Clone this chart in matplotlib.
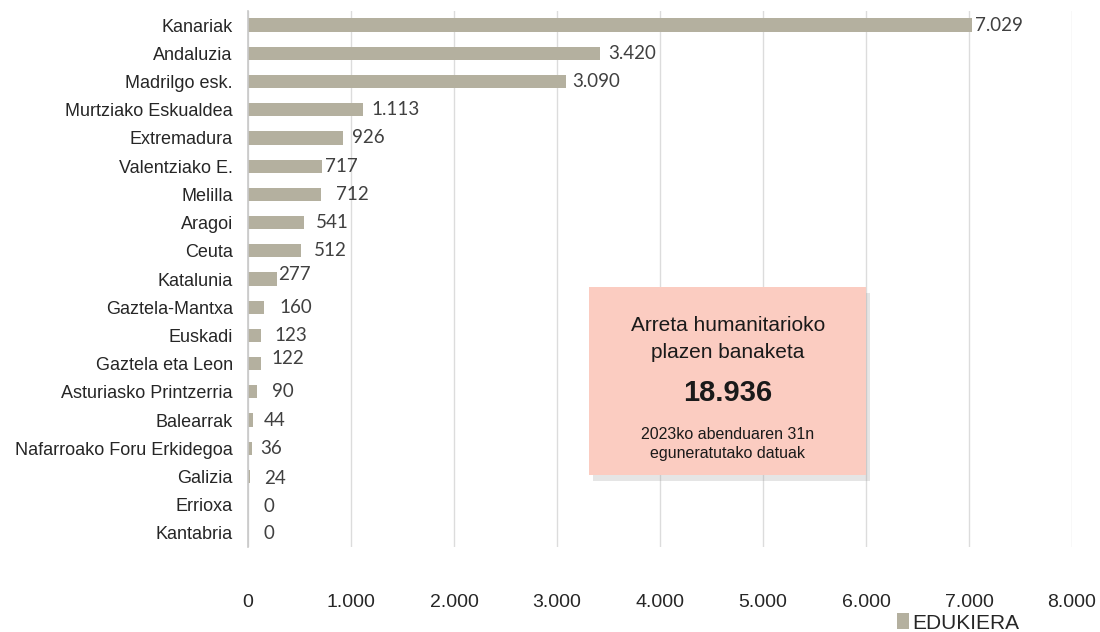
import matplotlib
matplotlib.use("Agg")
import matplotlib.pyplot as plt
from matplotlib.patches import Rectangle
from matplotlib import patheffects as pe

# data
regions = ["Kanariak", "Andaluzia", "Madrilgo esk.", "Murtziako Eskualdea", "Extremadura",
           "Valentziako E.", "Melilla", "Aragoi", "Ceuta", "Katalunia", "Gaztela-Mantxa",
           "Euskadi", "Gaztela eta Leon", "Asturiasko Printzerria", "Balearrak",
           "Nafarroako Foru Erkidegoa", "Galizia", "Errioxa", "Kantabria"]
plazak = [7029, 3420, 3090, 1113, 926, 717, 712, 541, 512, 277, 160, 123, 122, 90, 44, 36, 24, 0, 0]
value_labels = ["7.029", "3.420", "3.090", "1.113", "926", "717", "712", "541", "512", "277",
                "160", "123", "122", "90", "44", "36", "24", "0", "0"]
xticks = [0, 1000, 2000, 3000, 4000, 5000, 6000, 7000, 8000]
xtick_labels = ["0", "1.000", "2.000", "3.000", "4.000", "5.000", "6.000", "7.000", "8.000"]
legend_label = "EDUKIERA"
box_lines = ["Arreta humanitarioko\nplazen banaketa", "18.936",
             "2023ko abenduaren 31n\neguneratutako datuak"]

# label nudges (px) like the hand-placed excel labels
dx = [3, 8, 6, 9, 9, 3, 15, 12, 13, 2, 15, 14, 11, 15, 11, 9, 14, 15, 15]
dy = [0, 0, 0, 0, 0, 0, 0, 0, 0, 5, 0, 0, 5, 0, 0, 0, -2, -2, -1]

sans = ["Liberation Sans", "DejaVu Sans"]
bar_col = "#B4B09F"

fig = plt.figure(figsize=(11, 6.32), dpi=100)
ax = fig.add_axes([248/1100, 1-547/632, (1072-248)/1100, 536/632])

y = list(range(len(regions)))
ax.barh(y, plazak, height=0.47, color=bar_col, zorder=2)
ax.set_ylim(len(regions)-0.5, -0.5)
ax.set_xlim(0, 8000)

for i, v in enumerate(plazak):
    ax.annotate(value_labels[i], (v, i), xytext=(dx[i]*0.72, dy[i]*0.72),
                textcoords="offset points", ha="left", va="center",
                fontsize=13.5, family=["Lato", "DejaVu Sans"], color="#404040")

ax.set_xticks(xticks)
ax.set_xticklabels(xtick_labels, family=sans, fontsize=14, color="#262626")
ax.set_yticks(y)
ax.set_yticklabels(regions, family=sans, fontsize=13, color="#262626")
ax.tick_params(axis="x", length=0, pad=34)
ax.tick_params(axis="y", length=0, pad=11)
ax.grid(axis="x", color="#DCDCDC", linewidth=1, zorder=0)
for s in ["top", "right", "bottom"]:
    ax.spines[s].set_visible(False)
ax.spines["left"].set_color("#C8C8C8")
ax.spines["left"].set_linewidth(1.2)

# info box
box = Rectangle((589/1100, 1-475/632), 277/1100, 188/632, transform=fig.transFigure,
                facecolor="#FBCCC1", edgecolor="none", zorder=5,
                path_effects=[pe.SimplePatchShadow(offset=(3, -4), shadow_rgbFace="#999999", alpha=0.25),
                              pe.Normal()])
fig.patches.append(box)
cx = 727.7/1100
fig.text(cx, 1-339/632, box_lines[0], ha="center", va="center", fontsize=15,
         family=sans, linespacing=1.55, color="#1a1a1a", zorder=6)
fig.text(cx, 1-393/632, box_lines[1], ha="center", va="center", fontsize=21,
         family=sans, fontweight="bold", color="#1a1a1a", zorder=6)
fig.text(cx, 1-444/632, box_lines[2], ha="center", va="center", fontsize=11.5,
         family=sans, linespacing=1.3, color="#1a1a1a", zorder=6)

# legend
h = Rectangle((0, 0), 1, 1, facecolor=bar_col)
fig.legend([h], [legend_label], loc="center", bbox_to_anchor=(958/1100, 1-623/632),
           frameon=False, handlelength=0.6, handleheight=0.8, handletextpad=0.15,
           prop={"family": sans, "size": 15}, labelcolor="#262626")

fig.savefig("out.png", dpi=100)
